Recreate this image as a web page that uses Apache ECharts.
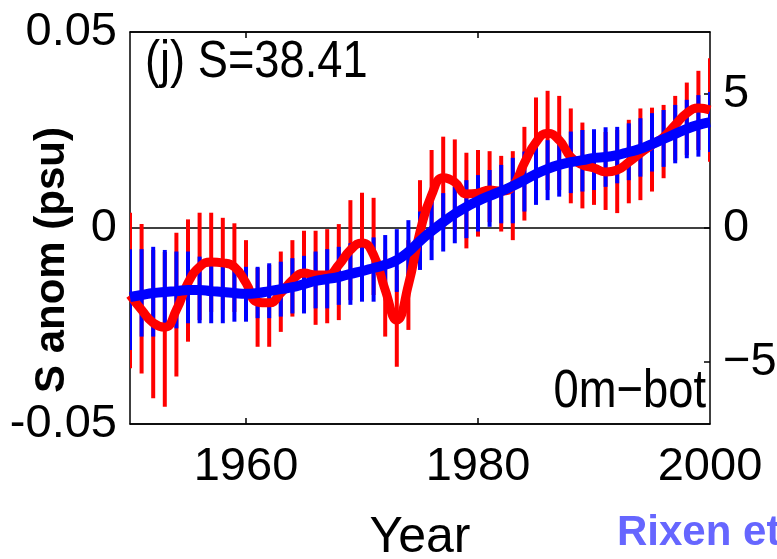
<!DOCTYPE html>
<html>
<head>
<meta charset="utf-8">
<title>S anom 0m-bot</title>
<script src="https://cdn.jsdelivr.net/npm/echarts@6.0.0/dist/echarts.min.js"></script>
<style>
  html, body { margin: 0; padding: 0; background: #fff; }
  #chart { width: 777px; height: 559px; }
</style>
</head>
<body>
<div id="chart"></div>
<script>
(function () {
  'use strict';

  // --- Data (psu anomalies) ---
  const years = [
    1950, 1951, 1952, 1953, 1954, 1955, 1956, 1957, 1958, 1959,
    1960, 1961, 1962, 1963, 1964, 1965, 1966, 1967, 1968, 1969,
    1970, 1971, 1972, 1973, 1974, 1975, 1976, 1977, 1978, 1979,
    1980, 1981, 1982, 1983, 1984, 1985, 1986, 1987, 1988, 1989,
    1990, 1991, 1992, 1993, 1994, 1995, 1996, 1997, 1998, 1999,
    2000
  ];

  // red: smoothed curve + yearly error bars
  const redLine = [
    -0.0171, -0.0209, -0.0242, -0.0253, -0.0209, -0.0140, -0.0099, -0.0087, -0.0089, -0.0099,
    -0.0140, -0.0189, -0.0191, -0.0166, -0.0133, -0.0115, -0.0120, -0.0120, -0.0094, -0.0056,
    -0.0038, -0.0069, -0.0158, -0.0235, -0.0145, -0.0010, 0.0084, 0.0128, 0.0117, 0.0087,
    0.0089, 0.0097, 0.0094, 0.0107, 0.0166, 0.0219, 0.0242, 0.0224, 0.0181, 0.0161,
    0.0153, 0.0143, 0.0148, 0.0168, 0.0191, 0.0212, 0.0232, 0.0263, 0.0293, 0.0306,
    0.0301
  ];
  const redHigh = [
    0.0039, 0.0010, -0.0056, -0.0061, -0.0012, 0.0022, 0.0039, 0.0039, 0.0026, 0.0012,
    -0.0031, -0.0102, -0.0094, -0.0060, -0.0031, -0.0007, -0.0007, -0.0003, 0.0010, 0.0071,
    0.0090, 0.0077, -0.0056, -0.0107, -0.0031, 0.0122, 0.0199, 0.0233, 0.0226, 0.0192,
    0.0199, 0.0196, 0.0184, 0.0196, 0.0258, 0.0333, 0.0350, 0.0337, 0.0305, 0.0269,
    0.0245, 0.0245, 0.0250, 0.0276, 0.0305, 0.0307, 0.0314, 0.0337, 0.0371, 0.0401,
    0.0433
  ];
  const redLow = [
    -0.0358, -0.0371, -0.0434, -0.0456, -0.0379, -0.0290, -0.0235, -0.0214, -0.0209, -0.0214,
    -0.0235, -0.0303, -0.0303, -0.0265, -0.0226, -0.0209, -0.0247, -0.0243, -0.0235, -0.0184,
    -0.0171, -0.0171, -0.0277, -0.0354, -0.0260, -0.0087, -0.0031, -0.0005, -0.0005, -0.0052,
    -0.0022, 0.0015, -0.0009, -0.0031, 0.0019, 0.0084, 0.0097, 0.0097, 0.0063, 0.0050,
    0.0059, 0.0046, 0.0038, 0.0063, 0.0071, 0.0093, 0.0127, 0.0173, 0.0186, 0.0199,
    0.0169
  ];

  // blue: trend curve + yearly error bars
  const blueLine = [
    -0.0176, -0.0171, -0.0166, -0.0163, -0.0161, -0.0158, -0.0158, -0.0161, -0.0163, -0.0166,
    -0.0168, -0.0166, -0.0161, -0.0156, -0.0151, -0.0143, -0.0135, -0.0130, -0.0125, -0.0117,
    -0.0110, -0.0102, -0.0094, -0.0082, -0.0061, -0.0033, -0.0008, 0.0015, 0.0036, 0.0054,
    0.0069, 0.0082, 0.0094, 0.0107, 0.0122, 0.0138, 0.0151, 0.0161, 0.0168, 0.0173,
    0.0179, 0.0181, 0.0186, 0.0194, 0.0202, 0.0214, 0.0227, 0.0240, 0.0253, 0.0263,
    0.0270
  ];
  const blueHigh = [
    -0.0054, -0.0054, -0.0048, -0.0056, -0.0060, -0.0060, -0.0073, -0.0086, -0.0094, -0.0103,
    -0.0099, -0.0099, -0.0090, -0.0086, -0.0077, -0.0071, -0.0060, -0.0054, -0.0048, -0.0039,
    -0.0031, -0.0024, -0.0018, -0.0003, 0.0020, 0.0042, 0.0067, 0.0089, 0.0105, 0.0122,
    0.0135, 0.0148, 0.0161, 0.0179, 0.0195, 0.0212, 0.0224, 0.0237, 0.0246, 0.0250,
    0.0252, 0.0257, 0.0258, 0.0267, 0.0280, 0.0293, 0.0301, 0.0314, 0.0327, 0.0339,
    0.0347
  ];
  const blueLow = [
    -0.0311, -0.0277, -0.0277, -0.0255, -0.0256, -0.0243, -0.0243, -0.0243, -0.0243, -0.0239,
    -0.0239, -0.0230, -0.0230, -0.0226, -0.0218, -0.0218, -0.0205, -0.0205, -0.0196, -0.0196,
    -0.0188, -0.0188, -0.0171, -0.0163, -0.0158, -0.0107, -0.0082, -0.0060, -0.0039, -0.0026,
    -0.0009, 0.0003, 0.0012, 0.0012, 0.0042, 0.0059, 0.0071, 0.0080, 0.0089, 0.0093,
    0.0097, 0.0105, 0.0114, 0.0122, 0.0131, 0.0144, 0.0156, 0.0165, 0.0178, 0.0182,
    0.0194
  ];

  const xLabels = [1960, 1980, 2000];
  const xTicks = [1960, 1980];
  const rightTicks = [-5, 0, 5];
  const rightMax = 7.31;

  // --- Styles ---
  const SANS = '"Liberation Sans", Arial, sans-serif';
  const LABEL = { color: '#000', fontSize: 47, fontFamily: SANS };
  const frame = { show: true, onZero: false, lineStyle: { color: '#000', width: 1.5 } };
  const innerTick = { show: true, inside: true, length: 6, lineStyle: { color: '#000', width: 1.5 } };

  function pairs(values) {
    return years.map((y, i) => [y, values[i]]);
  }

  function errorBars(low, high, color) {
    return {
      type: 'custom',
      clip: true,
      silent: true,
      encode: { x: 0, y: [1, 2] },
      data: years.map((y, i) => [y, low[i], high[i]]),
      renderItem: function (params, api) {
        const lo = api.coord([api.value(0), api.value(1)]);
        const hi = api.coord([api.value(0), api.value(2)]);
        return {
          type: 'rect',
          shape: { x: hi[0] - 2, y: hi[1], width: 4, height: lo[1] - hi[1] },
          style: { fill: color }
        };
      }
    };
  }

  // narrow-looking text: regular face squeezed horizontally
  function squeezed(text, x, y, size, align, sx) {
    return {
      type: 'text',
      x: x,
      y: y,
      scaleX: sx,
      style: {
        text: text,
        fill: '#000',
        fontSize: size,
        fontFamily: SANS,
        align: align,
        verticalAlign: 'middle'
      }
    };
  }

  const chart = echarts.init(document.getElementById('chart'), null, { renderer: 'canvas' });

  chart.setOption({
    animation: false,
    backgroundColor: '#fff',
    grid: {
      left: 130, right: 67, top: 32, bottom: 135,
      containLabel: false,
      outerBoundsMode: 'none'
    },
    xAxis: [{
      type: 'value',
      position: 'bottom',
      min: 1950,
      max: 2000,
      axisLine: frame,
      axisTick: Object.assign({}, innerTick, { customValues: xTicks }),
      axisLabel: Object.assign({}, LABEL, {
        customValues: xLabels,
        margin: 20,
        formatter: v => String(v)
      }),
      splitLine: { show: false },
      name: 'Year',
      nameLocation: 'middle',
      nameGap: 89,
      nameTextStyle: { color: '#000', fontSize: 50, fontFamily: SANS }
    }, {
      type: 'value',
      position: 'top',
      min: 1950,
      max: 2000,
      axisLine: frame,
      axisTick: Object.assign({}, innerTick, { customValues: xTicks }),
      axisLabel: { show: false },
      splitLine: { show: false }
    }],
    yAxis: [{
      type: 'value',
      position: 'left',
      min: -0.05,
      max: 0.05,
      interval: 0.05,
      axisLine: frame,
      axisTick: { show: false },
      axisLabel: Object.assign({}, LABEL, {
        margin: 13,
        formatter: v => (Math.abs(v) < 1e-9 ? '0' : v.toFixed(2))
      }),
      splitLine: { show: true, lineStyle: { color: '#000', width: 1.5 } }
    }, {
      type: 'value',
      position: 'right',
      min: -rightMax,
      max: rightMax,
      axisLine: frame,
      axisTick: Object.assign({}, innerTick, { customValues: rightTicks }),
      axisLabel: Object.assign({}, LABEL, {
        customValues: rightTicks,
        margin: 13,
        formatter: v => (v < 0 ? '\u2212' + Math.abs(v) : String(v))
      }),
      splitLine: { show: false }
    }],
    graphic: [
      squeezed('(j) S=38.41', 145, 63, 52, 'left', 0.87),
      squeezed('0m\u2212bot', 706, 392, 54, 'right', 0.84),
      {
        type: 'text',
        x: 52,
        y: 260,
        rotation: Math.PI / 2,
        style: {
          text: 'S anom (psu)',
          fill: '#000',
          fontSize: 42,
          fontWeight: 'bold',
          fontFamily: SANS,
          align: 'center',
          verticalAlign: 'middle'
        }
      }, {
        type: 'text',
        x: 617,
        y: 533,
        style: {
          text: 'Rixen et al.',
          fill: '#6666ff',
          fontSize: 42,
          fontWeight: 'bold',
          fontFamily: SANS,
          align: 'left',
          verticalAlign: 'middle'
        }
      }
    ],
    series: [
      errorBars(redLow, redHigh, '#ff0000'),
      {
        type: 'line',
        data: pairs(redLine),
        smooth: 0.5,
        showSymbol: false,
        silent: true,
        lineStyle: { color: '#ff0000', width: 9 }
      },
      errorBars(blueLow, blueHigh, '#0000ff'),
      {
        type: 'line',
        data: pairs(blueLine),
        smooth: 0.5,
        showSymbol: false,
        silent: true,
        lineStyle: { color: '#0000ff', width: 10 }
      }
    ]
  });
})();
</script>
</body>
</html>
